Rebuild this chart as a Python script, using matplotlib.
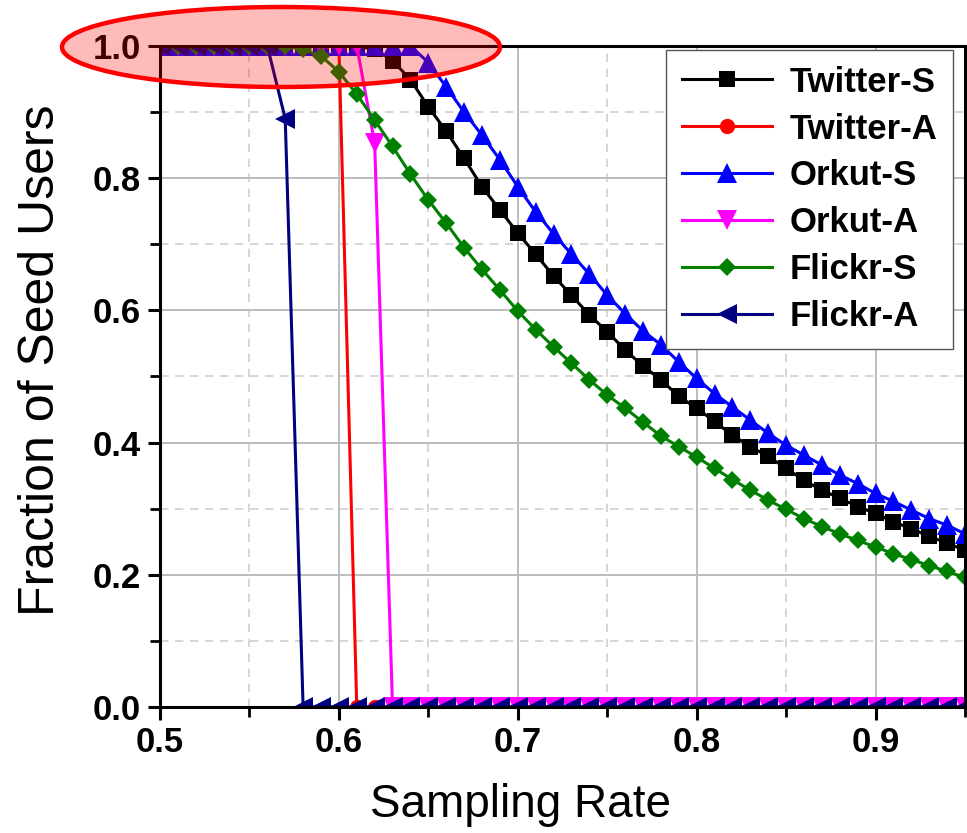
import matplotlib
matplotlib.use("Agg")
import matplotlib.pyplot as plt
from matplotlib.patches import Ellipse
from matplotlib.ticker import MultipleLocator

plt.rcParams['font.family'] = ['Liberation Sans', 'DejaVu Sans']

sampling_rate = [0.50, 0.51, 0.52, 0.53, 0.54, 0.55, 0.56, 0.57, 0.58, 0.59,
                 0.60, 0.61, 0.62, 0.63, 0.64, 0.65, 0.66, 0.67, 0.68, 0.69,
                 0.70, 0.71, 0.72, 0.73, 0.74, 0.75, 0.76, 0.77, 0.78, 0.79,
                 0.80, 0.81, 0.82, 0.83, 0.84, 0.85, 0.86, 0.87, 0.88, 0.89,
                 0.90, 0.91, 0.92, 0.93, 0.94, 0.95]

twitter_s = [1.0] * 12 + [0.995, 0.978, 0.949, 0.908, 0.871, 0.830, 0.787, 0.752,
                          0.717, 0.685, 0.652, 0.623, 0.593, 0.568, 0.540, 0.516,
                          0.495, 0.470, 0.452, 0.432, 0.411, 0.394, 0.379, 0.361,
                          0.343, 0.328, 0.316, 0.303, 0.293, 0.280, 0.270, 0.258,
                          0.248, 0.237]
twitter_a = [1.0] * 11 + [0.0] * 35
orkut_s = [1.0] * 15 + [0.975, 0.938, 0.900, 0.865, 0.828, 0.787, 0.749, 0.716,
                        0.685, 0.655, 0.623, 0.595, 0.569, 0.548, 0.522, 0.497,
                        0.474, 0.454, 0.434, 0.414, 0.396, 0.381, 0.366, 0.351,
                        0.338, 0.323, 0.311, 0.298, 0.285, 0.275, 0.262]
orkut_a = [1.0] * 12 + [0.853] + [0.0] * 33
flickr_s = [1.0] * 8 + [0.995, 0.985, 0.961, 0.927, 0.888, 0.848, 0.806, 0.767,
                        0.732, 0.695, 0.662, 0.631, 0.599, 0.571, 0.545, 0.520,
                        0.495, 0.472, 0.452, 0.431, 0.410, 0.394, 0.378, 0.361,
                        0.344, 0.328, 0.313, 0.299, 0.285, 0.273, 0.262, 0.252,
                        0.242, 0.232, 0.223, 0.214, 0.205, 0.196]
flickr_a = [1.0] * 7 + [0.89] + [0.0] * 38

series_names = ["Twitter-S", "Twitter-A", "Orkut-S", "Orkut-A", "Flickr-S", "Flickr-A"]
series_values = [twitter_s, twitter_a, orkut_s, orkut_a, flickr_s, flickr_a]
series_colors = ["#000000", "#ff0000", "#0000ff", "#ff00ff", "#008000", "#000080"]
series_markers = ["s", "o", "^", "v", "D", "<"]
series_msize = [11, 11, 14, 14, 9.5, 14]

x_ticks = [0.5, 0.6, 0.7, 0.8, 0.9]
y_ticks = [0.0, 0.2, 0.4, 0.6, 0.8, 1.0]

W, H = 967, 833
fig = plt.figure(figsize=(W / 100, H / 100), dpi=100)
ax = fig.add_axes([160 / W, 1 - 707 / H, (965 - 160) / W, (707 - 46) / H])

for name, vals, c, m, ms in zip(series_names, series_values, series_colors,
                                series_markers, series_msize):
    ax.plot(sampling_rate, vals, color=c, marker=m, markersize=ms, lw=2.2,
            label=name, markeredgewidth=0)

ax.set_xlim(0.5, 0.95)
ax.set_ylim(0.0, 1.0)
ax.set_xticks(x_ticks)
ax.set_yticks(y_ticks)
ax.set_xticklabels([f"{v:.1f}" for v in x_ticks])
ax.set_yticklabels([f"{v:.1f}" for v in y_ticks])
ax.xaxis.set_minor_locator(MultipleLocator(0.05))
ax.yaxis.set_minor_locator(MultipleLocator(0.1))

ax.grid(True, which='major', color='#bdbdbd', lw=1.4, ls='-')
ax.grid(True, which='minor', color='#d0d0d0', lw=1.2, ls=(0, (5, 4)))
ax.set_axisbelow(True)

for s in ax.spines.values():
    s.set_linewidth(2.2)
    s.set_color('black')

ax.tick_params(which='major', direction='out', length=9, width=2.2,
               labelsize=25, pad=5)
ax.tick_params(which='minor', direction='out', length=7, width=2.0)
for lab in ax.get_xticklabels() + ax.get_yticklabels():
    lab.set_fontweight('bold')

ax.set_xlabel("Sampling Rate", fontsize=33)
ax.xaxis.set_label_coords((520 - 160) / 805, (707 - 783) / 661)
ax.set_ylabel("Fraction of Seed Users", fontsize=36)
ax.yaxis.set_label_coords((64 - 160) / 805, 0.525)

leg = ax.legend(loc='upper right', bbox_to_anchor=((953 - 160) / (965 - 160), (707 - 50) / 661),
                borderaxespad=0, fancybox=False, frameon=True, framealpha=1,
                edgecolor='#555555', handlelength=2.6, handletextpad=0.5,
                labelspacing=0.4, borderpad=0.45, numpoints=1,
                prop={'weight': 'bold', 'size': 25})
leg.get_frame().set_linewidth(1.0)

ell = Ellipse((281 / W, 1 - 47 / H), 438 / W, 80 / H, transform=fig.transFigure,
              facecolor=(1, 0, 0, 0.27), edgecolor='#ff0000', lw=3.2, zorder=10)
fig.add_artist(ell)

fig.savefig("out.png", dpi=100)
